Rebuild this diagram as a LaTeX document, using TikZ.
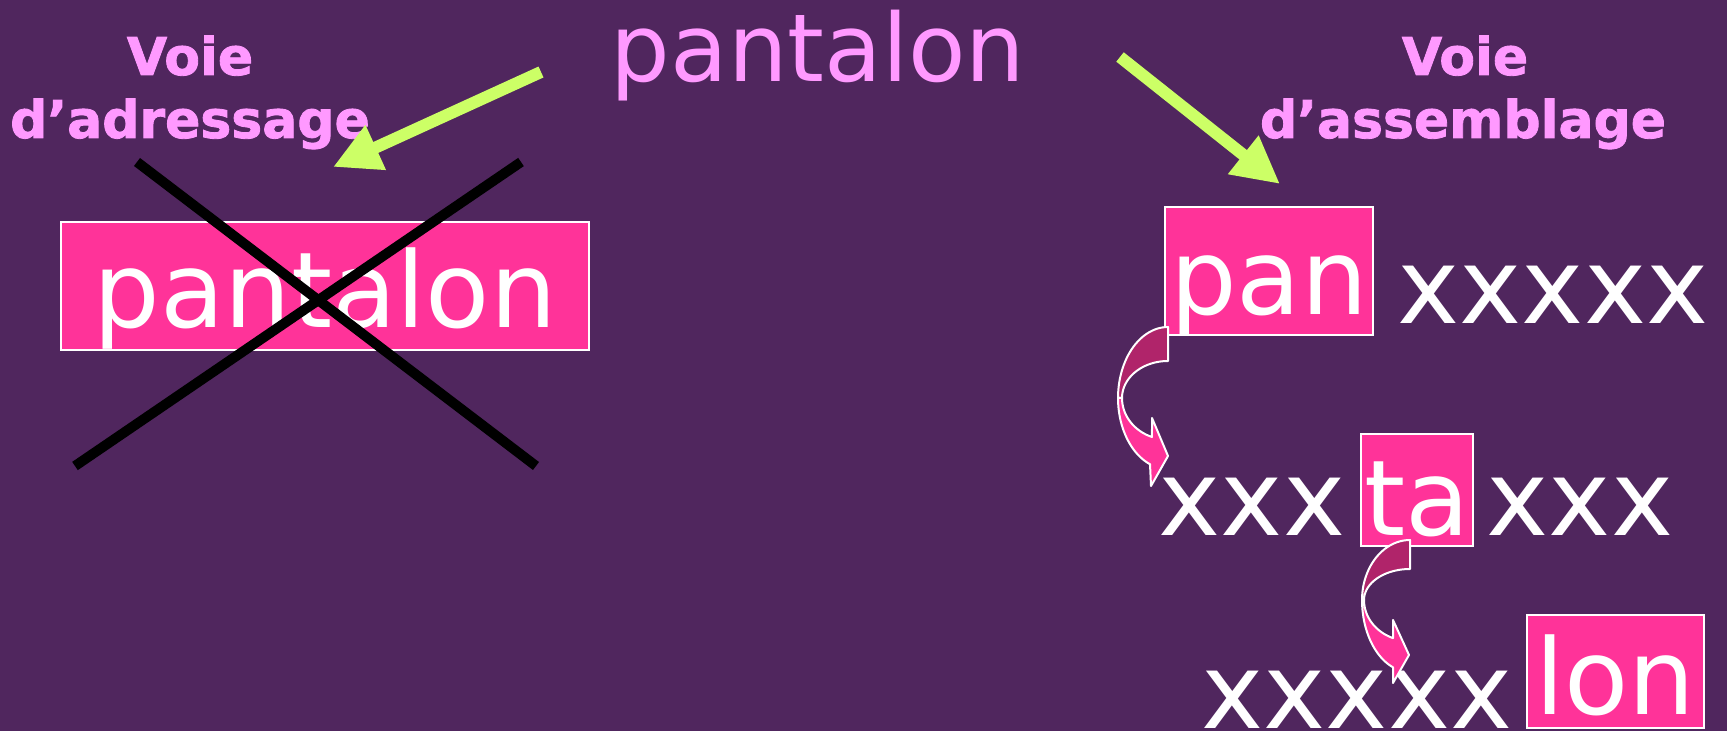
\documentclass[tikz,border=0pt]{standalone}
\usepackage{fontspec}
\setmainfont{DejaVu Sans}
\newfontfamily\headface{DejaVu Sans}[BoldFeatures={FakeBold=1.6}]
\usetikzlibrary{arrows.meta}
\definecolor{bgpurple}{RGB}{80,38,94}
\definecolor{boxpink}{RGB}{255,51,153}
\definecolor{lightpink}{RGB}{255,153,255}
\definecolor{lime}{RGB}{204,255,102}
\definecolor{darkmag}{RGB}{176,36,106}
\newcommand{\bigtxt}{\fontsize{52.5}{60}\selectfont}
\newcommand{\titletxt}{\fontsize{47}{54}\selectfont}
\newcommand{\headtxt}{\headface\fontsize{26}{32}\selectfont\bfseries}
\begin{document}
\begin{tikzpicture}[x=0.5pt,y=-0.5pt,
  pbox/.style={fill=boxpink, draw=white, line width=0.75pt, inner sep=0pt, anchor=base, font=\bigtxt, text=white},
  word/.style={inner sep=0pt, anchor=base, font=\bigtxt, text=white},
  head/.style={inner sep=0pt, anchor=base, font=\headtxt, text=lightpink},
  greenarrow/.style={draw=lime, line width=6pt, -{Triangle[length=23.5pt,width=23pt]}},
  cross/.style={draw=black, line width=5pt},
  arrowback/.style={fill=darkmag, draw=white, line width=1pt, line join=round},
  arrowfront/.style={fill=boxpink, draw=white, line width=1pt, line join=round}]
\useasboundingbox (0,0) rectangle (1727,731);
\fill[bgpurple] (0,0) rectangle (1727,731);

% title
\node[inner sep=0pt, anchor=base, font=\titletxt, text=lightpink] (title) at (818,82) {pantalon};

% headings
\node[head] (hl1) at (190,75) {Voie};
\node[head] (hl2) at (190,138) {d’adressage};
\node[head] (hr1) at (1465,75) {Voie};
\node[head] (hr2) at (1463,138) {d’assemblage};

% green arrows
\coordinate (gl0) at (541,72);
\coordinate (gl1) at (333,167);
\coordinate (gr0) at (1120,57);
\coordinate (gr1) at (1280,184);
\draw[greenarrow] (gl0) -- (gl1);
\draw[greenarrow] (gr0) -- (gr1);

% left crossed box
\node[pbox, text height=53pt, text depth=11pt, minimum width=264pt] (lbox) at (325,328) {pantalon};
\coordinate (c1a) at (137,162);
\coordinate (c1b) at (536,466);
\coordinate (c2a) at (521,162);
\coordinate (c2b) at (75,466);
\draw[cross] (c1a) -- (c1b);
\draw[cross] (c2a) -- (c2b);

% right side
\node[pbox, text height=54pt, text depth=10pt, minimum width=104pt] (pan) at (1269,315) {pan};
\node[word] (x1) at (1553,324) {xxxxx};
\node[word] (x2) at (1252,535) {xxx};
\node[pbox, text height=50.5pt, text depth=5.5pt, minimum width=56pt] (ta) at (1417,535) {ta};
\node[word] (x3) at (1580,535) {xxx};
\node[word] (x4) at (1357,728) {xxxxx};
\node[pbox, text height=49.5pt, text depth=7pt, minimum width=88.5pt] (lon) at (1615.5,714) {lon};

% curved arrow 1
\draw[arrowback] plot[domain=90:0,samples=30,variable=\t] ({1168-50*cos(\t)},{398-71*sin(\t)})
  -- plot[domain=0:90,samples=30,variable=\t] ({1168-46*cos(\t)},{398-37*sin(\t)}) -- cycle;
\draw[arrowfront] plot[domain=0:68.9,samples=30,variable=\t] ({1168-50*cos(\t)},{398+71*sin(\t)})
  -- (1151,486) -- (1168,456) -- (1152,418)
  -- plot[domain=69.6:0,samples=30,variable=\t] ({1168-46*cos(\t)},{398+41.6*sin(\t)}) -- cycle;

% curved arrow 2
\draw[arrowback] plot[domain=90:0,samples=30,variable=\t] ({1410-48*cos(\t)},{600-60*sin(\t)})
  -- plot[domain=0:90,samples=30,variable=\t] ({1410-46*cos(\t)},{600-31*sin(\t)}) -- cycle;
\draw[arrowfront] plot[domain=0:69.3,samples=30,variable=\t] ({1410-48*cos(\t)},{600+72*sin(\t)})
  -- (1393,683) -- (1409,655) -- (1393,620)
  -- plot[domain=68.3:0,samples=30,variable=\t] ({1410-46*cos(\t)},{600+41*sin(\t)}) -- cycle;
\end{tikzpicture}
\end{document}
